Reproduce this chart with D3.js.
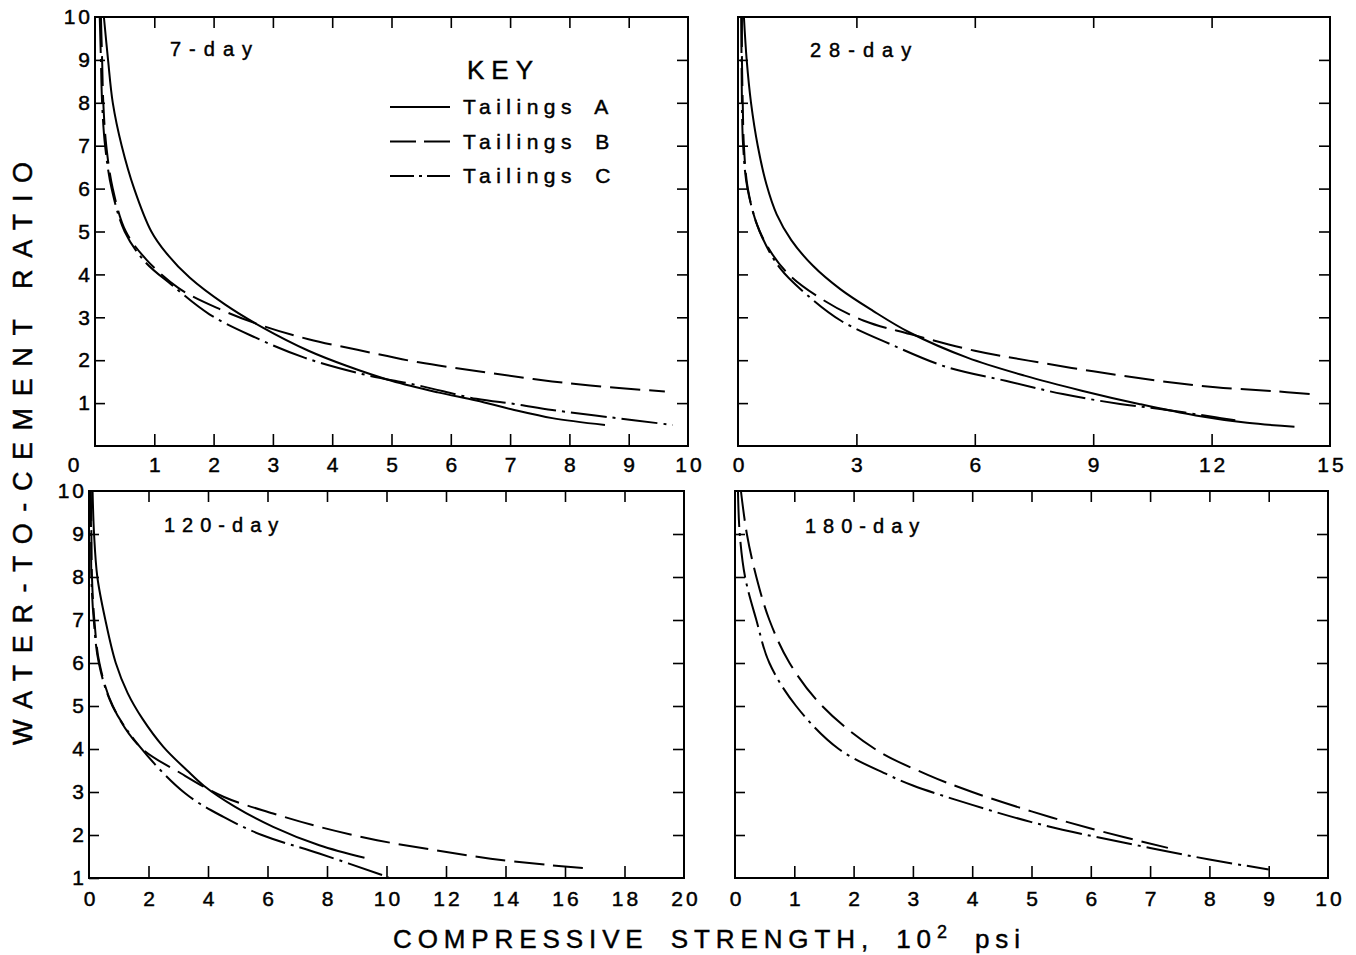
<!DOCTYPE html>
<html>
<head>
<meta charset="utf-8">
<script src="https://cdn.jsdelivr.net/npm/d3@7"></script>
<style>
  body { margin: 0; background: #fff; }
  text { font-family: "Liberation Sans", Arial, sans-serif; fill: #000; stroke: #000; stroke-width: 0.45px; }
</style>
</head>
<body>
<div id="container"></div>
<script>
// curve points: [strength (10^2 psi), water-to-cement ratio]
let a7 = [[0.15,10],[0.22,9],[0.3,8],[0.45,7],[0.66,6],[0.95,5],[1.2,4.5],[1.6,3.92],[2.19,3.3],[2.83,2.76],[3.6,2.22],[4.24,1.87],[5.0,1.52],[5.78,1.25],[6.43,1.06],[7.07,0.84],[7.71,0.65],[8.6,0.49]];
let b7 = [[0.1,10],[0.12,9],[0.14,8],[0.19,7],[0.3,6],[0.52,5],[0.87,4.34],[1.41,3.68],[2.12,3.18],[2.83,2.8],[3.6,2.49],[4.5,2.22],[5.46,1.95],[6.43,1.75],[7.39,1.56],[8.35,1.41],[9.61,1.27]];
let c7 = [[0.08,10],[0.1,9],[0.12,8],[0.17,7],[0.28,6],[0.5,5],[0.84,4.3],[1.29,3.76],[1.93,3.07],[2.7,2.53],[3.53,2.06],[4.5,1.68],[5.46,1.41],[6.43,1.1],[7.07,0.98],[7.71,0.84],[8.68,0.67],[9.74,0.49]];

let a28 = [[0.15,10],[0.22,9],[0.33,8],[0.5,7],[0.72,6.1],[0.98,5.4],[1.35,4.8],[1.9,4.2],[2.6,3.65],[3.42,3.15],[4.36,2.64],[5.81,2.06],[7.26,1.64],[8.71,1.29],[10.16,0.98],[11.6,0.71],[12.9,0.54],[14.1,0.45]];
let b28 = [[0.1,10],[0.1,9],[0.12,8],[0.15,7],[0.25,6],[0.55,5],[1.2,4.08],[2.13,3.42],[3.19,2.92],[4.36,2.61],[6.0,2.22],[7.36,1.99],[9.0,1.74],[10.65,1.52],[12.1,1.37],[13.55,1.28],[14.52,1.21]];
let c28 = [[0.08,10],[0.09,9],[0.1,8],[0.13,7],[0.24,6],[0.55,5],[1.06,4.15],[1.74,3.53],[2.61,2.92],[3.87,2.37],[5.32,1.83],[6.78,1.52],[8.23,1.21],[9.68,0.98],[10.65,0.87],[12.1,0.67],[12.6,0.6]];

let a120 = [[0.12,10],[0.17,9],[0.28,8],[0.55,7],[0.9,6],[1.3,5.3],[1.8,4.7],[2.5,4.05],[3.3,3.5],[3.87,3.14],[4.9,2.66],[6.19,2.19],[7.74,1.76],[9.26,1.47]];
let b120 = [[0.06,10],[0.08,9],[0.1,8],[0.18,7],[0.35,6],[0.8,5],[1.7,4.06],[3.1,3.43],[4.52,2.89],[6.19,2.5],[7.74,2.19],[9.68,1.88],[11.6,1.65],[13.5,1.45],[15.5,1.3],[16.6,1.23]];
let c120 = [[0.05,10],[0.07,9],[0.08,8],[0.16,7],[0.33,6],[0.79,5],[1.7,4.06],[3.23,2.97],[4.52,2.42],[5.81,2.0],[7.74,1.57],[10.06,1.02]];

let b180 = [[0.1,10],[0.2,9],[0.36,8],[0.58,7],[0.92,6],[1.47,5],[2.36,4],[3.25,3.4],[4.0,3.0],[5.0,2.55],[6.0,2.15],[7.3,1.7]];
let c180 = [[0.05,10],[0.08,9],[0.17,8],[0.36,7],[0.58,6],[1.03,5],[1.75,4],[2.58,3.4],[3.0,3.15],[4.0,2.7],[5.0,2.3],[6.0,1.98],[7.0,1.7],[8.0,1.43],[9.0,1.2]];

// tick labels
let xLabels7 = [0,1,2,3,4,5,6,7,8,9,10];
let xLabels28 = [0,3,6,9,12,15];
let xLabels120 = [0,2,4,6,8,10,12,14,16,18,20];
let xLabels180 = [0,1,2,3,4,5,6,7,8,9,10];
let yLabelsTop = [1,2,3,4,5,6,7,8,9,10];
let yLabelsBottom = [1,2,3,4,5,6,7,8,9,10];

let seriesNames = ["Tailings A","Tailings B","Tailings C"];

let width = 1356, height = 955;

let svg = d3.select("#container").append("svg")
    .attr("width", width)
    .attr("height", height);

let dash = {"Tailings A": null, "Tailings B": "30,9", "Tailings C": "36,6,3,6"};

let panels = [
  {title: "7-day", tx: 170, ty: 56, left: 95, right: 688, top: 17, bottom: 446,
   xDomain: [0,10], yDomain: [0,10], xLabels: xLabels7, yLabels: yLabelsTop, showY: true, zeroShift: -22,
   series: [a7, b7, c7]},
  {title: "28-day", tx: 810, ty: 57, left: 738, right: 1330, top: 17, bottom: 446,
   xDomain: [0,15], yDomain: [0,10], xLabels: xLabels28, yLabels: yLabelsTop, showY: false, zeroShift: 0,
   series: [a28, b28, c28]},
  {title: "120-day", tx: 164, ty: 532, left: 89, right: 684, top: 491, bottom: 878,
   xDomain: [0,20], yDomain: [1,10], xLabels: xLabels120, yLabels: yLabelsBottom, showY: true, zeroShift: 0,
   series: [a120, b120, c120]},
  {title: "180-day", tx: 805, ty: 533, left: 735, right: 1328, top: 491, bottom: 878,
   xDomain: [0,10], yDomain: [1,10], xLabels: xLabels180, yLabels: yLabelsBottom, showY: false, zeroShift: 0,
   series: [null, b180, c180]}
];

function styleAxis(g) {
  g.select(".domain").remove();
  g.selectAll("line").attr("stroke", "#000").attr("stroke-width", 1.6);
  g.selectAll("text")
    .attr("font-family", "Liberation Sans, Arial, sans-serif")
    .attr("font-size", 21)
    .style("letter-spacing", "3px");
}

panels.forEach(function(p) {
  let x = d3.scaleLinear().domain(p.xDomain).range([p.left, p.right]);
  let y = d3.scaleLinear().domain(p.yDomain).range([p.bottom, p.top]);
  let g = svg.append("g").attr("class", "panel");

  let xInner = p.xLabels.filter(v => v > p.xDomain[0] && v < p.xDomain[1]);
  let yInner = p.yLabels.filter(v => v > p.yDomain[0] && v < p.yDomain[1]);

  // bottom: inward ticks + labels
  let bx = g.append("g")
      .attr("transform", "translate(0," + p.bottom + ")")
      .call(d3.axisBottom(x).tickValues(p.xLabels).tickSizeInner(-12).tickSizeOuter(0).tickPadding(p.top < 100 ? 11 : 13));
  styleAxis(bx);
  bx.selectAll(".tick").filter(d => d <= p.xDomain[0] || d >= p.xDomain[1]).select("line").remove();
  bx.selectAll(".tick text").attr("dx", 1.5);
  bx.selectAll(".tick").filter(d => d === 0).select("text").attr("dx", p.zeroShift + 1.5);

  // top ticks
  let tx = g.append("g")
      .attr("transform", "translate(0," + p.top + ")")
      .call(d3.axisTop(x).tickValues(xInner).tickSizeInner(-11).tickSizeOuter(0).tickFormat(""));
  styleAxis(tx);

  // left ticks (labels only on left column)
  let ly = g.append("g")
      .attr("transform", "translate(" + p.left + ",0)")
      .call(d3.axisLeft(y).tickValues(p.showY ? p.yLabels : yInner).tickSizeInner(-10).tickSizeOuter(0)
        .tickPadding(2).tickFormat(p.showY ? d3.format("d") : ""));
  styleAxis(ly);
  ly.selectAll(".tick").filter(d => d >= p.yDomain[1]).select("line").remove();

  // right ticks
  let ry = g.append("g")
      .attr("transform", "translate(" + p.right + ",0)")
      .call(d3.axisRight(y).tickValues(yInner).tickSizeInner(-11).tickSizeOuter(0).tickFormat(""));
  styleAxis(ry);

  // frame
  g.append("rect")
    .attr("x", p.left).attr("y", p.top)
    .attr("width", p.right - p.left).attr("height", p.bottom - p.top)
    .attr("fill", "none").attr("stroke", "#000").attr("stroke-width", 2);

  // curves
  let line = d3.line()
      .x(d => x(d[0]))
      .y(d => y(d[1]))
      .curve(d3.curveCatmullRom.alpha(0.5));

  p.series.forEach(function(s, i) {
    if (!s) return;
    g.append("path")
      .datum(s)
      .attr("d", line)
      .attr("fill", "none")
      .attr("stroke", "#000")
      .attr("stroke-width", 2)
      .attr("stroke-dasharray", dash[seriesNames[i]]);
  });

  g.append("text")
    .attr("x", p.tx).attr("y", p.ty)
    .attr("font-size", 20)
    .style("letter-spacing", p.title.length > 6 ? "7px" : "8px")
    .text(p.title);
});

// key
let key = svg.append("g").attr("class", "key");
key.append("text")
  .attr("x", 467).attr("y", 79)
  .attr("font-size", 26)
  .style("letter-spacing", "7px")
  .text("KEY");

let keyDash = {"Tailings A": null, "Tailings B": "26,8", "Tailings C": "24,5,3,5"};
let keyRows = key.selectAll(".row").data(seriesNames)
  .enter().append("g")
    .attr("class", "row")
    .attr("transform", (d, i) => "translate(0," + (107 + i * 34.5) + ")");

keyRows.append("line")
  .attr("x1", 390).attr("x2", 450)
  .attr("stroke", "#000").attr("stroke-width", 2)
  .attr("stroke-dasharray", d => keyDash[d]);

keyRows.append("text")
  .attr("x", 463).attr("y", 7)
  .attr("font-size", 21)
  .style("letter-spacing", "5.5px")
  .style("word-spacing", "7px")
  .text(d => d);

// axis titles
let xt = svg.append("text")
  .attr("x", 393).attr("y", 948)
  .attr("font-size", 26)
  .style("letter-spacing", "5.9px")
  .style("word-spacing", "9px");
xt.append("tspan").text("COMPRESSIVE STRENGTH, 10");
xt.append("tspan").attr("font-size", 18).attr("dy", -10).text("2");
xt.append("tspan").attr("dy", 10).text(" psi");

svg.append("text")
  .attr("transform", "translate(32,745) rotate(-90)")
  .attr("font-size", 27)
  .style("letter-spacing", "11.6px")
  .text("WATER-TO-CEMENT RATIO");
</script>
</body>
</html>
